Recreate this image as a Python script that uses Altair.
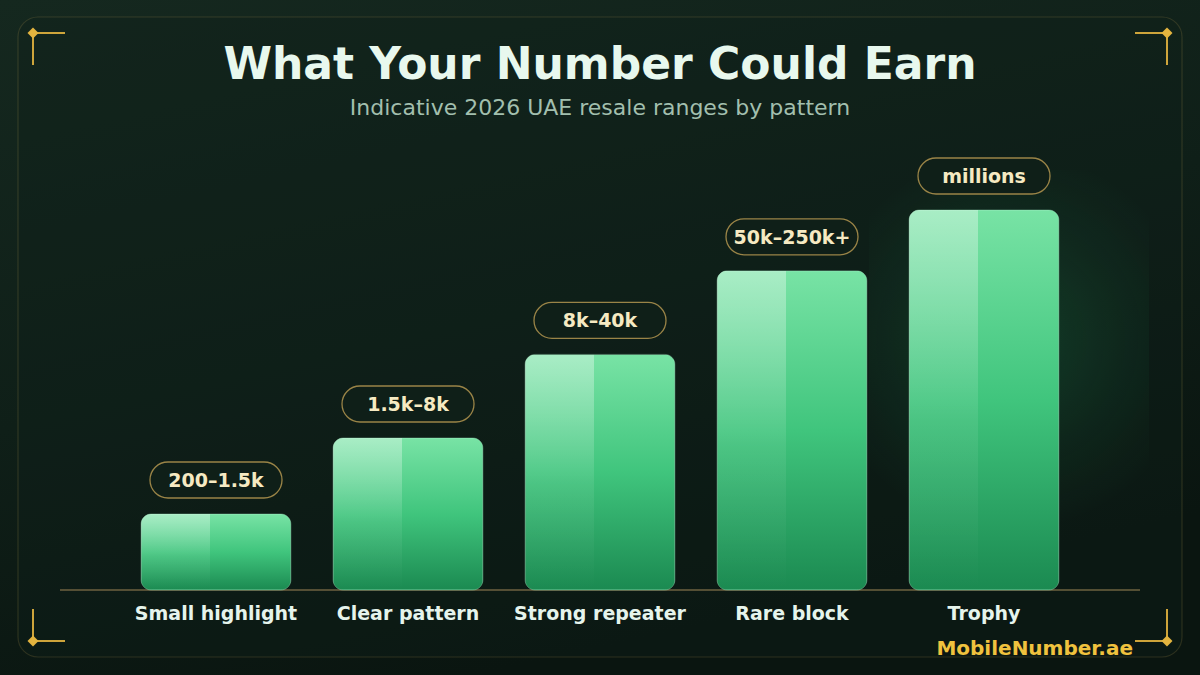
import altair as alt
import pandas as pd

# Pattern tiers, their relative value index and the quoted AED resale range
categories = ["Small highlight", "Clear pattern", "Strong repeater", "Rare block", "Trophy"]
value_index = [20, 40, 62, 84, 100]
price_ranges = ["200–1.5k", "1.5k–8k", "8k–40k", "50k–250k+", "millions"]

TITLE = "What Your Number Could Earn"
SUBTITLE = "Indicative 2026 UAE resale ranges by pattern"
BRAND = "MobileNumber.ae"

FONT = "DejaVu Sans"
GOLD = "#e3b43f"

df = pd.DataFrame({"cat": categories, "score": value_index, "range": price_ranges})
one = pd.DataFrame({"k": [0]})

W, H = 1200, 675

x_enc = alt.X("cat:N", sort=categories, axis=None,
              scale=alt.Scale(range=[120, 1080], paddingInner=0, paddingOuter=0))
y_enc = alt.Y("score:Q", axis=None, scale=alt.Scale(domain=[0, 100], range=[590, 210]))


def lin(stops, x2=0, y2=1):
    return alt.LinearGradient(
        gradient="linear", x1=0, y1=0, x2=x2, y2=y2,
        stops=[alt.GradientStop(offset=o, color=c) for o, c in stops])


base_decor = alt.Chart(one)

# backdrop and framed panel
background = base_decor.mark_rect(
    color=lin([(0, "#15281f"), (0.55, "#0f1f18"), (1, "#0a1510")], x2=0.4, y2=1)
).encode(x=alt.value(0), x2=alt.value(W), y=alt.value(0), y2=alt.value(H))

panel = base_decor.mark_rect(
    cornerRadius=20, fill="#0f2019", fillOpacity=0.35,
    stroke="#c9a85a", strokeOpacity=0.18, strokeWidth=1.2
).encode(x=alt.value(18), x2=alt.value(1182), y=alt.value(17), y2=alt.value(657))

# gold corner brackets
corner_lines = pd.DataFrame({
    "x": [33, 33, 1135, 1167, 33, 33, 1135, 1167],
    "x2": [65, 33, 1167, 1167, 65, 33, 1167, 1167],
    "y": [33, 33, 33, 33, 641, 609, 641, 609],
    "y2": [33, 65, 33, 65, 641, 641, 641, 641],
})
brackets = alt.Chart(corner_lines).mark_rule(color=GOLD, strokeWidth=2, opacity=0.9).encode(
    x=alt.X("x:Q", scale=None), x2="x2:Q",
    y=alt.Y("y:Q", scale=None), y2="y2:Q")

corner_dots = pd.DataFrame({"x": [33, 1167, 33, 1167], "y": [33, 33, 641, 641]})
dots = alt.Chart(corner_dots).mark_point(
    shape="diamond", filled=True, size=120, color=GOLD, opacity=1).encode(
    x=alt.X("x:Q", scale=None), y=alt.Y("y:Q", scale=None))

# headings
title = base_decor.mark_text(
    text=TITLE, font=FONT, fontSize=44, fontWeight="bold", color="#e8f8ee",
    align="center", baseline="alphabetic"
).encode(x=alt.value(600), y=alt.value(79))

subtitle = base_decor.mark_text(
    text=SUBTITLE, font=FONT, fontSize=22, color="#a2bfae",
    align="center", baseline="alphabetic"
).encode(x=alt.value(600), y=alt.value(115))

underline = base_decor.mark_rule(
    strokeWidth=3, strokeCap="round",
    color=lin([(0, "#b8902e"), (0.5, "#f3dc8a"), (1, "#b8902e")], x2=1, y2=0)
).encode(x=alt.value(586), x2=alt.value(642), y=alt.value(135))

brand = base_decor.mark_text(
    text=BRAND, font=FONT, fontSize=20, fontWeight="bold", color="#f0c23e",
    align="right", baseline="alphabetic"
).encode(x=alt.value(1133), y=alt.value(655))

# axis baseline
baseline = base_decor.mark_rule(color="#6e6240", strokeWidth=1.5).encode(
    x=alt.value(60), x2=alt.value(1140), y=alt.value(590))

bars_base = alt.Chart(df)

# soft halo behind the top tier
glow = bars_base.transform_filter(alt.datum.cat == "Trophy").mark_bar(
    width=280, xOffset=25, yOffset=-40,
    color=alt.RadialGradient(
        gradient="radial", x1=0.5, y1=0.45, x2=0.5, y2=0.45, r1=0, r2=0.5,
        stops=[alt.GradientStop(offset=0, color="rgba(40,190,110,0.20)"),
               alt.GradientStop(offset=0.6, color="rgba(40,190,110,0.07)"),
               alt.GradientStop(offset=1, color="rgba(40,190,110,0)")])
).encode(x=x_enc, y=y_enc)

bars = bars_base.mark_bar(
    width={"band": 0.78}, cornerRadius=10,
    color=lin([(0, "#78e3a5"), (0.5, "#40c57d"), (1, "#1b8a51")]),
    stroke="#a8f0c8", strokeOpacity=0.35, strokeWidth=1
).encode(x=x_enc, y=y_enc)

sheen = bars_base.mark_bar(
    width=69, xOffset=-40.5, cornerRadiusTopLeft=10, cornerRadiusBottomLeft=10,
    color=lin([(0, "rgba(255,255,255,0.36)"), (0.55, "rgba(255,255,255,0.08)"),
               (1, "rgba(255,255,255,0.0)")])
).encode(x=x_enc, y=y_enc)

pills = bars_base.mark_bar(
    width=132, yOffset=-52, y2Offset=-16, cornerRadius=18,
    fill="#0f1f18", stroke="#9a8447", strokeWidth=1.3
).encode(x=x_enc, y=y_enc, y2="score:Q")

pill_text = bars_base.mark_text(
    font=FONT, fontSize=19, fontWeight="bold", color="#f6eac2",
    baseline="middle", dy=-33
).encode(x=x_enc, y=y_enc, text="range:N")

cat_labels = bars_base.mark_text(
    font=FONT, fontSize=19, fontWeight="bold", color="#e6f4ec", baseline="middle"
).encode(x=x_enc, y=alt.value(614), text="cat:N")

chart = alt.layer(
    background, panel, brackets, dots, title, subtitle, underline,
    glow, baseline, bars, sheen, pills, pill_text, cat_labels, brand
).properties(
    width=W, height=H, padding=0, autosize=alt.AutoSizeParams(type="none"),
    background="#0c1813"
).configure_view(stroke=None)

chart.save("out.html", embed_options={"renderer": "svg", "actions": False})
